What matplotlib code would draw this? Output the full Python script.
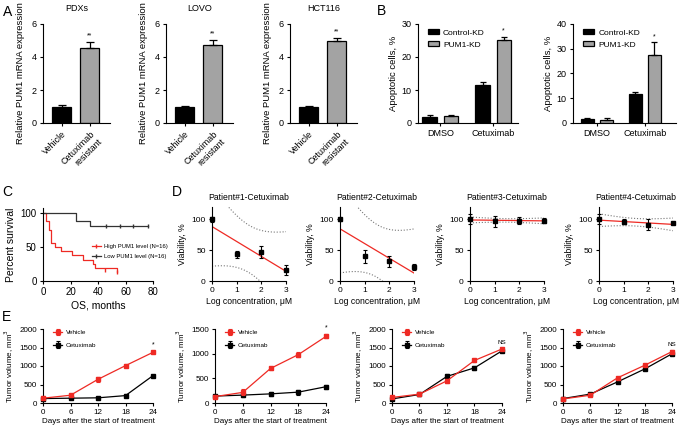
import matplotlib.pyplot as plt
import numpy as np
from matplotlib.lines import Line2D
from matplotlib.patches import Patch

plt.rcParams['font.family'] = ['Liberation Sans', 'DejaVu Sans']
plt.rcParams['axes.linewidth'] = 0.8
plt.rcParams['xtick.major.width'] = 0.8
plt.rcParams['ytick.major.width'] = 0.8
plt.rcParams['xtick.major.size'] = 2.5
plt.rcParams['ytick.major.size'] = 2.5
plt.rcParams['xtick.major.pad'] = 2
plt.rcParams['ytick.major.pad'] = 2

RED = '#ee2a24'
GRAY = '#a3a3a3'

# --- A: PUM1 mRNA expression
a_titles = ['PDXs', 'LOVO', 'HCT116']
a_groups = ['Vehicle', 'Cetuximab\nresistant']
a_means = [[1.0, 4.55], [1.0, 4.72], [1.0, 4.98]]
a_errs = [[0.08, 0.35], [0.05, 0.33], [0.04, 0.15]]

# --- B: apoptosis
b_groups = ['DMSO', 'Cetuximab']
b_ctrl = [[1.8, 11.6], [1.6, 11.8]]
b_ctrl_err = [[0.5, 0.8], [0.3, 0.6]]
b_pum = [[2.1, 25.0], [1.2, 27.5]]
b_pum_err = [[0.4, 1.2], [0.7, 5.2]]
b_ymax = [30, 40]

# --- C: survival
c_high_t = [0, 2, 4, 6, 9, 13, 21, 29, 36, 37.5, 54]
c_high_s = [100, 87.5, 75, 56.25, 50, 43.75, 37.5, 31.25, 25, 18.75, 12.5]
c_high_cens_t = [45]
c_low_t = [0, 24, 34, 76]
c_low_s = [100, 87.5, 81.25, 81.25]
c_low_cens_t = [46, 56, 65.5]

# --- D: viability
d_titles = ['Patient#1-Cetuximab', 'Patient#2-Cetuximab',
            'Patient#3-Cetuximab', 'Patient#4-Cetuximab']
d_logc = [0, 1, 2, 3]
d_means = [[100, 43, 47, 18], [100, 40, 32, 23], [100, 97, 98, 98], [100, 96, 91, 94]]
d_errs = [[4, 5, 9, 8], [2, 10, 9, 5], [8, 9, 5, 4], [8, 4, 9, 2]]
T_DF2 = 4.303  # t(0.975, df=2)

# --- E: tumour growth
e_days = [0, 6, 12, 18, 24]
e_veh = [[130, 210, 640, 1010, 1370], [130, 215, 700, 980, 1350],
         [150, 240, 600, 1150, 1460], [110, 210, 680, 1020, 1390]]
e_veh_err = [[50, 30, 60, 40, 30], [40, 60, 30, 50, 40],
             [40, 40, 50, 50, 40], [30, 30, 30, 30, 30]]
e_cet = [[120, 130, 140, 200, 740], [140, 160, 185, 220, 330],
         [110, 230, 720, 950, 1410], [120, 240, 570, 920, 1330]]
e_cet_err = [[30, 20, 20, 30, 20], [30, 30, 40, 50, 40],
             [40, 30, 60, 50, 40], [40, 40, 30, 30, 30]]
e_sig = ['*', '*', 'NS', 'NS']
e_ymax = [2000, 1500, 2000, 2000]

W, H = 680, 429
fig = plt.figure(figsize=(6.8, 4.29), dpi=100)


def box(l, r, t, b):
    ax = fig.add_axes([l / W, 1 - b / H, (r - l) / W, (b - t) / H])
    ax.spines['top'].set_visible(False)
    ax.spines['right'].set_visible(False)
    return ax


def letter(x, y, s):
    fig.text(x / W, 1 - y / H, s, fontsize=10, ha='left', va='center')


# A
for i, l in enumerate([43, 166, 290]):
    ax = box(l, l + 67, 24, 123)
    x = np.arange(2)
    ax.bar(x, a_means[i], width=0.68, color=['black', GRAY], edgecolor='black', linewidth=0.9)
    ax.errorbar(x, a_means[i], yerr=[[0, 0], a_errs[i]], fmt='none', ecolor='black',
                elinewidth=0.9, capsize=3, capthick=0.9)
    ax.text(1, a_means[i][1] + a_errs[i][1] + 0.15, '**', ha='center', va='bottom', fontsize=5)
    ax.set_xlim(-0.68, 1.72)
    ax.set_ylim(0, 6)
    ax.set_yticks([0, 2, 4, 6])
    ax.set_xticks(x)
    ax.set_xticklabels(a_groups, rotation=45, ha='right', rotation_mode='anchor', fontsize=6.5)
    ax.tick_params(axis='y', labelsize=6.5)
    ax.set_title(a_titles[i], fontsize=6.5, pad=9)
    ax.set_ylabel('Relative PUM1 mRNA expression', fontsize=6.8, labelpad=5)

letter(3, 12, 'A')

# B
for i, (l, r, xl, xr) in enumerate([(418, 518, -0.42, 1.47), (573, 676, -0.5, 1.65)]):
    ax = box(l, r, 24, 123)
    x = np.arange(2)
    off = 0.2
    ax.bar(x - off, b_ctrl[i], width=0.27, color='black', edgecolor='black', linewidth=0.9,
           label='Control-KD')
    ax.bar(x + off, b_pum[i], width=0.27, color=GRAY, edgecolor='black', linewidth=0.9,
           label='PUM1-KD')
    ax.errorbar(x - off, b_ctrl[i], yerr=[[0, 0], b_ctrl_err[i]], fmt='none', ecolor='black',
                elinewidth=0.9, capsize=2.5, capthick=0.9)
    ax.errorbar(x + off, b_pum[i], yerr=[[0, 0], b_pum_err[i]], fmt='none', ecolor='black',
                elinewidth=0.9, capsize=2.5, capthick=0.9)
    ax.text(1 + off, b_pum[i][1] + b_pum_err[i][1] + b_ymax[i] * 0.02, '*', ha='center',
            va='bottom', fontsize=5)
    ax.set_xlim(xl, xr)
    ax.set_ylim(0, b_ymax[i])
    ax.set_yticks(np.arange(0, b_ymax[i] + 1, 10))
    ax.set_xticks(x)
    ax.set_xticklabels(b_groups, fontsize=6.5)
    ax.tick_params(axis='y', labelsize=6.5)
    ax.set_ylabel('Apoptotic cells, %', fontsize=6.8, labelpad=3)
    ax.legend(loc='upper left', bbox_to_anchor=(0.05, 1.0), frameon=False, fontsize=6,
              handlelength=1.3, handleheight=0.6, handletextpad=0.5, labelspacing=0.55,
              borderpad=0.1)

letter(377, 11, 'B')

# C
ax = box(43, 153, 208, 281)
ax.step(c_high_t, c_high_s, where='post', color=RED, lw=0.9)
ax.step(c_low_t, c_low_s, where='post', color='#333333', lw=0.9)
ax.plot(c_high_cens_t, np.interp(c_high_cens_t, c_high_t, c_high_s), '|', color=RED, ms=3)
ax.plot(c_high_t[-1], c_high_s[-1], '|', color=RED, ms=3)
ax.plot(c_low_cens_t, [c_low_s[-1]] * len(c_low_cens_t), '|', color='#333333', ms=3)
ax.plot(c_low_t[-1], c_low_s[-1], '|', color='#333333', ms=3)
ax.set_xlim(0, 80)
ax.set_ylim(0, 107)
ax.set_xticks([0, 20, 40, 60, 80])
ax.set_yticks([0, 50, 100])
ax.tick_params(labelsize=7)
ax.set_xlabel('OS, months', fontsize=7.5, labelpad=2)
ax.set_ylabel('Percent survival', fontsize=7.5, labelpad=3)
handles = [Line2D([], [], color=RED, lw=0.9, marker='|', ms=3),
           Line2D([], [], color='#333333', lw=0.9, marker='|', ms=3)]
ax.legend(handles, ['High PUM1 level (N=16)', 'Low PUM1 level (N=16)'], loc='upper left',
          bbox_to_anchor=(0.42, 0.55), frameon=False, fontsize=4.2, handlelength=1.5,
          handletextpad=0.5, labelspacing=0.9, borderpad=0)
letter(2, 192, 'C')

# D
for i, l in enumerate([212, 340, 470, 599]):
    ax = box(l, l + 74, 207, 281)
    xs = np.array(d_logc, dtype=float)
    ys = np.array(d_means[i], dtype=float)
    slope, icpt = np.polyfit(xs, ys, 1)
    xx = np.linspace(0, 3, 100)
    fit = icpt + slope * xx
    resid = ys - (icpt + slope * xs)
    s = np.sqrt(np.sum(resid ** 2) / (len(xs) - 2))
    hw = T_DF2 * s * np.sqrt(1 / len(xs) + (xx - xs.mean()) ** 2 / np.sum((xs - xs.mean()) ** 2))
    ax.plot(xx, fit + hw, ':', color='#777777', lw=0.8)
    ax.plot(xx, fit - hw, ':', color='#777777', lw=0.8)
    ax.plot(xx, fit, color=RED, lw=0.9)
    ax.errorbar(xs, ys, yerr=d_errs[i], fmt='s', color='black', ms=2.5, elinewidth=0.8,
                capsize=1.5, capthick=0.8, clip_on=False, zorder=5)
    ax.set_xlim(0, 3)
    ax.set_ylim(0, 120)
    ax.set_xticks([0, 1, 2, 3])
    ax.set_yticks([0, 50, 100])
    ax.tick_params(labelsize=6)
    ax.set_title(d_titles[i], fontsize=6.2, pad=5)
    ax.set_xlabel('Log concentration, μM', fontsize=6.2, labelpad=2)
    ax.set_ylabel('Viability, %', fontsize=6.2, labelpad=3)

letter(172, 192, 'D')

# E
for i, (l, r) in enumerate([(43, 153), (215, 326), (392, 502), (563, 672)]):
    ax = box(l, r, 329, 403)
    ax.errorbar(e_days, e_veh[i], yerr=e_veh_err[i], fmt='-s', color=RED, ms=2.2, lw=0.9,
                elinewidth=0.8, capsize=1.2, capthick=0.8, clip_on=False, label='Vehicle',
                zorder=4)
    ax.errorbar(e_days, e_cet[i], yerr=e_cet_err[i], fmt='-s', color='black', ms=2.2, lw=0.9,
                elinewidth=0.8, capsize=1.2, capthick=0.8, clip_on=False, label='Cetuximab',
                zorder=3)
    top = e_veh[i][-1] + e_veh_err[i][-1] + e_ymax[i] * 0.04
    ax.text(24, top, e_sig[i], ha='center', va='bottom', fontsize=4.5 if e_sig[i] == 'NS' else 5)
    ax.set_xlim(0, 24)
    ax.set_ylim(0, e_ymax[i])
    ax.set_xticks(e_days)
    ax.set_yticks(np.arange(0, e_ymax[i] + 1, 500))
    ax.tick_params(labelsize=5.8)
    ax.set_xlabel('Days after the start of treatment', fontsize=5.8, labelpad=1.5)
    ax.set_ylabel('Tumor volume, mm$^3$', fontsize=5.8, labelpad=2)
    ax.legend(loc='upper left', bbox_to_anchor=(0.06, 1.04), frameon=False, fontsize=4.6,
              handlelength=1.4, handletextpad=0.5, labelspacing=1.1, borderpad=0.1)

letter(2, 317, 'E')

fig.savefig('out.png', dpi=100)
